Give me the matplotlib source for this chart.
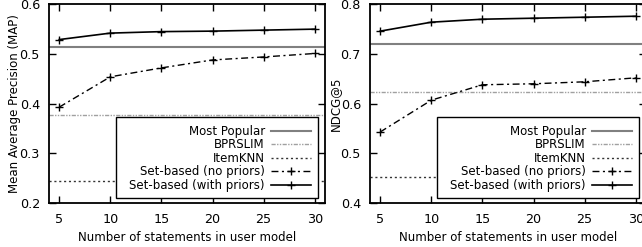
import matplotlib
matplotlib.use("Agg")
import matplotlib.pyplot as plt
from matplotlib.patches import Rectangle
from matplotlib.ticker import FormatStrFormatter

# ---- data ----
statements = [5, 10, 15, 20, 25, 30]

map_with_priors = [0.529, 0.542, 0.545, 0.546, 0.548, 0.550]
map_no_priors = [0.393, 0.454, 0.472, 0.488, 0.494, 0.501]
map_most_popular = 0.514
map_bprslim = 0.377
map_itemknn = 0.2445

ndcg_with_priors = [0.746, 0.764, 0.770, 0.772, 0.774, 0.776]
ndcg_no_priors = [0.543, 0.607, 0.638, 0.640, 0.644, 0.652]
ndcg_most_popular = 0.721
ndcg_bprslim = 0.624
ndcg_itemknn = 0.452

xticks = [5, 10, 15, 20, 25, 30]
labels = ["Most Popular", "BPRSLIM", "ItemKNN",
          "Set-based (no priors)", "Set-based (with priors)"]

plt.rcParams['font.family'] = ['DejaVu Sans']
plt.rcParams['font.size'] = 8.5

W, H = 642, 247
fig = plt.figure(figsize=(W / 100, H / 100), dpi=100)

def rect(l, r, t, b):
    return [l / W, 1 - b / H, (r - l) / W, (b - t) / H]

def panel(ax, with_p, no_p, mp, bpr, knn, ylim, yticks, ylabel):
    ax.set_xlim(4, 31)
    ax.set_ylim(*ylim)
    h1 = ax.axhline(mp, color='#808080', lw=1.5)
    h2 = ax.axhline(bpr, color='#a0a0a0', lw=1.0, dashes=(3, 1, 1, 1, 1, 1))
    h3 = ax.axhline(knn, color='#333333', lw=1.0, dashes=(1.5, 2))
    h4, = ax.plot(statements, no_p, color='black', lw=1.0, marker='+', ms=5.5,
                  mew=1.0, dashes=(5, 2.5, 1.5, 2.5))
    h5, = ax.plot(statements, with_p, color='black', lw=1.2, marker='+', ms=5.5,
                  mew=1.0)
    ax.set_xticks(xticks)
    ax.set_yticks(yticks)
    ax.yaxis.set_major_formatter(FormatStrFormatter('%.1f'))
    ax.tick_params(direction='in', top=True, right=True, length=5, width=1,
                   labelsize=9.2)
    ax.tick_params(axis='x', pad=7.5)
    ax.tick_params(axis='y', pad=6.5)
    for s in ax.spines.values():
        s.set_linewidth(1.3)
    ax.set_xlabel("Number of statements in user model", fontsize=8.5, labelpad=3)
    ax.set_ylabel(ylabel, fontsize=8.5, labelpad=-1)
    # legend frame (gnuplot-style box)
    ax.add_patch(Rectangle((0.2428, 0.025), 0.9746 - 0.2428, 0.4328 - 0.025,
                           transform=ax.transAxes, facecolor='white',
                           edgecolor='black', lw=1.0, zorder=4))
    leg = ax.legend([h1, h2, h3, h4, h5], labels, loc='lower right',
                    bbox_to_anchor=(0.949, 0.055), borderaxespad=0,
                    markerfirst=False, frameon=False, fontsize=8.5,
                    handlelength=3.4, handletextpad=0.5, labelspacing=0.05,
                    borderpad=0.0)
    leg.set_zorder(5)

ax1 = fig.add_axes(rect(49, 325, 4.3, 203))
panel(ax1, map_with_priors, map_no_priors, map_most_popular, map_bprslim,
      map_itemknn, (0.2, 0.6), [0.2, 0.3, 0.4, 0.5, 0.6],
      "Mean Average Precision (MAP)")

ax2 = fig.add_axes(rect(370, 646, 4.3, 203))
panel(ax2, ndcg_with_priors, ndcg_no_priors, ndcg_most_popular, ndcg_bprslim,
      ndcg_itemknn, (0.4, 0.8), [0.4, 0.5, 0.6, 0.7, 0.8], "NDCG@5")

fig.savefig("out.png", dpi=100)
